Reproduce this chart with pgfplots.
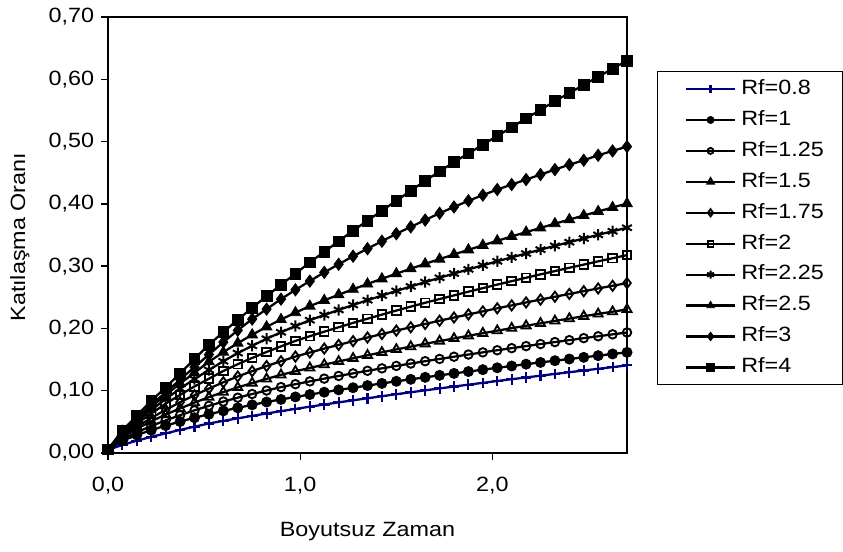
\documentclass[border=0pt]{standalone}
\usepackage{fontspec}
\setmainfont{Liberation Sans}[FakeStretch=1.13]
\usepackage{pgfplots}
\usepackage{pgfplotstable}
\pgfplotsset{compat=1.18}
\definecolor{navyx}{RGB}{0,0,128}

\pgfplotstableread{
x     r08    r1     r125   r15    r175   r2     r225   r25    r3    r4
0.000 0.0050 0.0050 0.0050 0.0050 0.0050 0.0050 0.0050 0.0050 0.005 0.006
0.075 0.0130 0.0196 0.0221 0.0255 0.0272 0.0293 0.0309 0.0327 0.035 0.036
0.150 0.0198 0.0288 0.0333 0.0389 0.0421 0.0471 0.0503 0.0537 0.056 0.060
0.225 0.0259 0.0367 0.0434 0.0509 0.0563 0.0634 0.0690 0.0741 0.078 0.084
0.300 0.0315 0.0440 0.0524 0.0617 0.0693 0.0792 0.0866 0.0931 0.097 0.105
0.375 0.0371 0.0505 0.0607 0.0716 0.0815 0.0933 0.1034 0.1115 0.118 0.128
0.450 0.0423 0.0566 0.0685 0.0809 0.0928 0.1069 0.1187 0.1289 0.138 0.151
0.525 0.0474 0.0622 0.0758 0.0897 0.1034 0.1193 0.1333 0.1465 0.158 0.174
0.600 0.0516 0.0676 0.0826 0.0978 0.1135 0.1317 0.1473 0.1619 0.178 0.194
0.675 0.0557 0.0725 0.0888 0.1053 0.1229 0.1426 0.1604 0.1764 0.197 0.214
0.750 0.0596 0.0773 0.0947 0.1123 0.1314 0.1526 0.1721 0.1898 0.215 0.233
0.825 0.0634 0.0819 0.1003 0.1190 0.1396 0.1622 0.1834 0.2026 0.231 0.252
0.900 0.0672 0.0860 0.1058 0.1255 0.1473 0.1712 0.1938 0.2143 0.247 0.270
0.975 0.0708 0.0900 0.1105 0.1312 0.1548 0.1800 0.2038 0.2254 0.262 0.288
1.050 0.0744 0.0939 0.1150 0.1366 0.1613 0.1875 0.2132 0.2358 0.276 0.306
1.125 0.0778 0.0976 0.1194 0.1419 0.1676 0.1948 0.2216 0.2451 0.290 0.323
1.200 0.0813 0.1013 0.1237 0.1470 0.1736 0.2019 0.2297 0.2541 0.303 0.340
1.275 0.0846 0.1048 0.1279 0.1520 0.1796 0.2089 0.2376 0.2629 0.316 0.357
1.350 0.0879 0.1083 0.1320 0.1569 0.1854 0.2156 0.2453 0.2714 0.328 0.373
1.425 0.0912 0.1117 0.1359 0.1616 0.1910 0.2222 0.2528 0.2797 0.340 0.389
1.500 0.0944 0.1151 0.1398 0.1663 0.1965 0.2287 0.2602 0.2879 0.352 0.405
1.575 0.0975 0.1183 0.1436 0.1708 0.2019 0.2350 0.2674 0.2959 0.363 0.421
1.650 0.1006 0.1215 0.1474 0.1753 0.2072 0.2412 0.2744 0.3037 0.374 0.437
1.725 0.1037 0.1247 0.1510 0.1797 0.2124 0.2472 0.2813 0.3113 0.385 0.452
1.800 0.1067 0.1278 0.1546 0.1839 0.2175 0.2531 0.2881 0.3188 0.395 0.467
1.875 0.1097 0.1308 0.1581 0.1882 0.2225 0.2590 0.2948 0.3262 0.405 0.481
1.950 0.1126 0.1338 0.1616 0.1923 0.2274 0.2647 0.3013 0.3335 0.414 0.495
2.025 0.1156 0.1368 0.1650 0.1964 0.2323 0.2704 0.3078 0.3407 0.423 0.509
2.100 0.1185 0.1397 0.1683 0.2004 0.2370 0.2759 0.3141 0.3477 0.431 0.523
2.175 0.1213 0.1426 0.1716 0.2043 0.2417 0.2814 0.3203 0.3546 0.439 0.537
2.250 0.1241 0.1454 0.1749 0.2082 0.2463 0.2868 0.3265 0.3614 0.447 0.551
2.325 0.1270 0.1482 0.1781 0.2121 0.2509 0.2921 0.3326 0.3682 0.455 0.565
2.400 0.1297 0.1509 0.1812 0.2158 0.2554 0.2974 0.3385 0.3748 0.463 0.578
2.475 0.1325 0.1536 0.1844 0.2196 0.2598 0.3025 0.3444 0.3813 0.470 0.591
2.550 0.1352 0.1563 0.1874 0.2233 0.2642 0.3077 0.3503 0.3878 0.478 0.604
2.625 0.1379 0.1590 0.1905 0.2269 0.2685 0.3127 0.3560 0.3942 0.485 0.617
2.700 0.1406 0.1616 0.1935 0.2305 0.2728 0.3177 0.3617 0.4005 0.492 0.630
}\data

\begin{document}
\fontsize{15.5}{18.6}\selectfont
\begin{tikzpicture}
\useasboundingbox (-81pt,-73.5pt) rectangle (551.25pt,339.75pt);
\begin{axis}[
  at={(0pt,0pt)}, anchor=south west,
  scale only axis, width=389.25pt, height=327pt,
  xmin=0, xmax=2.7, ymin=0, ymax=0.7,
  xtick={0,1,2}, ytick={0,0.1,0.2,0.3,0.4,0.5,0.6,0.7},
  tick pos=left, tick align=outside, major tick length=5pt,
  every tick/.style={black, line width=1pt},
  axis line style={black, line width=1.1pt},
  /pgf/number format/assume math mode=true,
  tick label style={font=\fontsize{15.5}{18.6}\selectfont},
  label style={font=\fontsize{15.5}{18.6}\selectfont},
  xticklabel style={yshift=-8pt, /pgf/number format/.cd, fixed, fixed zerofill, precision=1, use comma},
  yticklabel style={/pgf/number format/.cd, fixed, fixed zerofill, precision=2, use comma},
  xlabel={Boyutsuz Zaman},
  ylabel={Katılaşma Oranı},
  xlabel style={at={(axis description cs:0.5,-0.181)}, anchor=center},
  ylabel style={at={(axis description cs:-0.17,0.495)}, anchor=center},
  clip=false,
  legend image code/.code={\path (0pt,0pt);
    \draw[mark repeat=2,mark phase=2,#1,every mark/.append style={scale=0.7}]
      plot coordinates {(17pt,0pt) (35.5pt,0pt) (54pt,0pt)};},
  legend style={at={(axis description cs:1.057,0.876)}, anchor=north west,
    draw=black, line width=0.75pt, fill=white,
    font=\fontsize{15.5}{18.6}\selectfont,
    inner xsep=3.75pt, inner ysep=1.5pt, row sep=0pt, column sep=0pt,
    nodes={text height=12pt, text depth=4pt, inner ysep=3.6pt, inner xsep=3.75pt},
    cells={anchor=west}},
]
\addplot[navyx, line width=1.7pt, mark=+, mark size=4pt, mark options={line width=1.6pt}] table[x=x,y=r08] {\data};
\addlegendentry{\makebox[68pt][l]{Rf=0.8}}
\addplot[black, line width=1.7pt, mark=*, mark size=3.8pt, mark options={line width=0.6pt}] table[x=x,y=r1] {\data};
\addlegendentry{Rf=1}
\addplot[black, line width=1.7pt, mark=o, mark size=3.2pt, mark options={line width=1.4pt}] table[x=x,y=r125] {\data};
\addlegendentry{Rf=1.25}
\addplot[black, line width=1.7pt, mark=triangle, mark size=3.9pt, mark options={line width=1.4pt}] table[x=x,y=r15] {\data};
\addlegendentry{Rf=1.5}
\addplot[black, line width=1.7pt, mark=diamond, mark size=3.8pt, mark options={line width=1.4pt}] table[x=x,y=r175] {\data};
\addlegendentry{Rf=1.75}
\addplot[black, line width=1.7pt, mark=square, mark size=3.2pt, mark options={line width=1.4pt}] table[x=x,y=r2] {\data};
\addlegendentry{Rf=2}
\addplot[black, line width=1.7pt, mark=asterisk, mark size=4.2pt, mark options={line width=1.5pt}] table[x=x,y=r225] {\data};
\addlegendentry{Rf=2.25}
\addplot[black, line width=1.7pt, mark=triangle*, mark size=4.6pt, mark options={line width=0.6pt}] table[x=x,y=r25] {\data};
\addlegendentry{Rf=2.5}
\addplot[black, line width=1.7pt, mark=diamond*, mark size=4.6pt, mark options={line width=0.6pt}] table[x=x,y=r3] {\data};
\addlegendentry{Rf=3}
\addplot[black, line width=1.7pt, mark=square*, mark size=4pt, mark options={line width=0.6pt}] table[x=x,y=r4] {\data};
\addlegendentry{Rf=4}
\end{axis}
\end{tikzpicture}
\end{document}
